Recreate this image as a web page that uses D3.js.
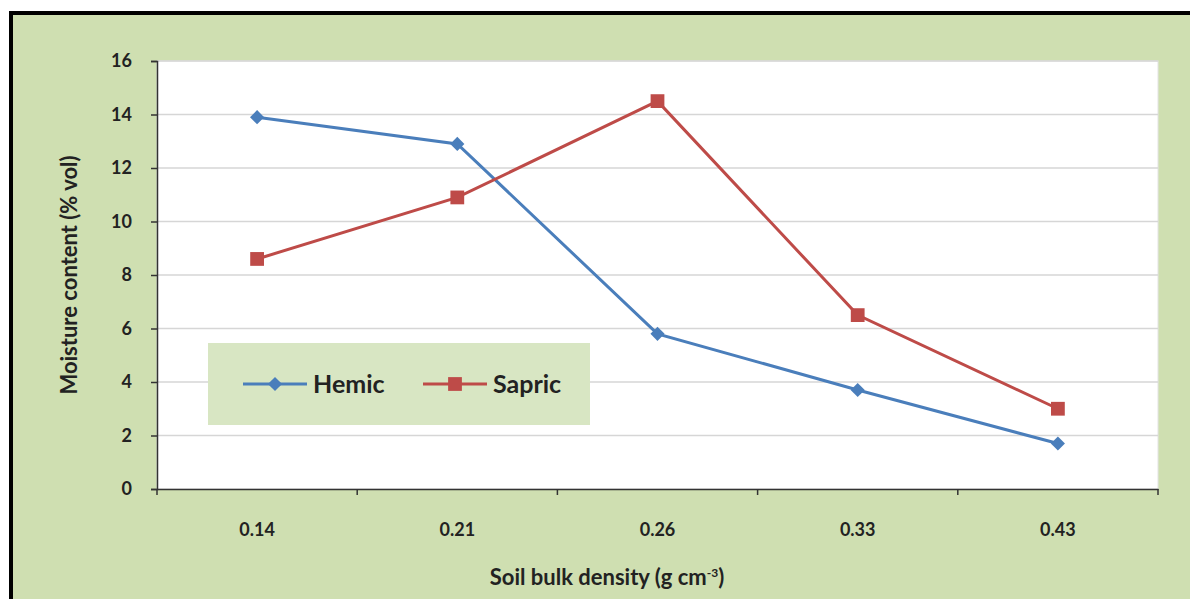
<!DOCTYPE html>
<html>
<head>
<meta charset="utf-8">
<script src="https://cdn.jsdelivr.net/npm/d3@7"></script>
<style>
  body { margin: 0; background: #fff; }
  svg text { font-family: Lato, "Open Sans", sans-serif; font-weight: bold; fill: #222; }
</style>
</head>
<body>
<svg id="chart" width="1190" height="599"></svg>
<script>
// data
var densities = ["0.14", "0.21", "0.26", "0.33", "0.43"];
var hemic = [13.9, 12.9, 5.8, 3.7, 1.7];
var sapric = [8.6, 10.9, 14.5, 6.5, 3.0];
var yTicks = [0, 2, 4, 6, 8, 10, 12, 14, 16];

var svg = d3.select("#chart");

// outer frame: black top/left border, green fill
svg.append("rect")
  .attr("x", 9).attr("y", 11)
  .attr("width", 1190).attr("height", 600)
  .attr("fill", "#000");
svg.append("rect")
  .attr("x", 13).attr("y", 15)
  .attr("width", 1190).attr("height", 600)
  .attr("fill", "#cfdfb1");

// plot area bounds (don't use "top", it's window.top)
var plotLeft = 157, plotTop = 61, plotRight = 1158, plotBottom = 489;

var x = d3.scaleBand()
  .domain(densities)
  .range([plotLeft, plotRight]);

var y = d3.scaleLinear()
  .domain([0, 16])
  .range([plotBottom, plotTop]);

// plot area
svg.append("rect")
  .attr("x", plotLeft).attr("y", plotTop)
  .attr("width", plotRight - plotLeft).attr("height", plotBottom - plotTop)
  .attr("fill", "#fff")
  .attr("stroke", "#e3e3e3");

// gridlines
svg.append("g")
  .selectAll("line")
  .data(yTicks.slice(1))
  .enter()
  .append("line")
  .attr("x1", plotLeft).attr("x2", plotRight)
  .attr("y1", function (d) { return y(d); })
  .attr("y2", function (d) { return y(d); })
  .attr("stroke", "#d6d6d6")
  .attr("stroke-width", 1.5);

// y axis
var y_axis = d3.axisLeft(y)
  .tickValues(yTicks)
  .tickSize(6)
  .tickPadding(19);

svg.append("g")
  .attr("transform", "translate(" + plotLeft + ",0)")
  .call(y_axis)
  .call(function (g) {
    g.selectAll("path, line").attr("stroke", "#333").attr("stroke-width", 1.5);
    g.selectAll("text").style("font-size", "18px").attr("fill", "#222");
  });

// x axis: ticks at category boundaries
var x_axis = d3.axisBottom(x)
  .tickSize(0)
  .tickPadding(34);

svg.append("g")
  .attr("transform", "translate(0," + plotBottom + ")")
  .call(x_axis)
  .call(function (g) {
    g.select(".domain").attr("stroke", "#333").attr("stroke-width", 1.5);
    g.selectAll("text").style("font-size", "18px").attr("fill", "#222");
  });

svg.append("g")
  .selectAll("line")
  .data(densities.concat(["end"]))
  .enter()
  .append("line")
  .attr("x1", function (d, i) { return i < densities.length ? x(d) : plotRight; })
  .attr("x2", function (d, i) { return i < densities.length ? x(d) : plotRight; })
  .attr("y1", plotBottom).attr("y2", plotBottom + 6)
  .attr("stroke", "#333")
  .attr("stroke-width", 1.5);

// lines and markers
var line = d3.line()
  .x(function (d, i) { return x(densities[i]) + x.bandwidth() / 2; })
  .y(function (d) { return y(d); });

// excel style diamond = square turned 45deg
var series = [
  { name: "Hemic", values: hemic, color: "#4a7ebb", symbol: d3.symbolSquare, size: 100, rot: 45 },
  { name: "Sapric", values: sapric, color: "#be4b48", symbol: d3.symbolSquare, size: 190, rot: 0 }
];

series.forEach(function (s) {
  svg.append("path")
    .datum(s.values)
    .attr("fill", "none")
    .attr("stroke", s.color)
    .attr("stroke-width", 3)
    .attr("d", line);

  svg.append("g")
    .selectAll("path")
    .data(s.values)
    .enter()
    .append("path")
    .attr("d", d3.symbol().type(s.symbol).size(s.size))
    .attr("fill", s.color)
    .attr("transform", function (d, i) {
      return "translate(" + (x(densities[i]) + x.bandwidth() / 2) + "," + y(d) + ") rotate(" + s.rot + ")";
    });
});

// legend
var legend = svg.append("g");
legend.append("rect")
  .attr("x", 208).attr("y", 343)
  .attr("width", 382).attr("height", 82)
  .attr("fill", "#d8e6c3");

var legendX = [243, 423];
series.forEach(function (s, i) {
  var lx = legendX[i];
  legend.append("line")
    .attr("x1", lx).attr("x2", lx + 64)
    .attr("y1", 384).attr("y2", 384)
    .attr("stroke", s.color)
    .attr("stroke-width", 3);
  legend.append("path")
    .attr("d", d3.symbol().type(s.symbol).size(s.size))
    .attr("fill", s.color)
    .attr("transform", "translate(" + (lx + 32) + ",384) rotate(" + s.rot + ")");
  legend.append("text")
    .attr("x", lx + 70)
    .attr("y", 384)
    .attr("dy", "0.35em")
    .style("font-size", "25px")
    .text(s.name);
});

// axis titles
svg.append("text")
  .attr("transform", "translate(77," + ((plotTop + plotBottom) / 2) + ") rotate(-90)")
  .style("text-anchor", "middle")
  .style("font-size", "22px")
  .text("Moisture content (% vol)");

var xt = svg.append("text")
  .attr("x", 607)
  .attr("y", 585)
  .style("text-anchor", "middle")
  .style("font-size", "22px");
xt.append("tspan").text("Soil bulk density (g cm");
xt.append("tspan").attr("dy", -8).style("font-size", "12px").text("-3");
xt.append("tspan").attr("dy", 8).text(")");
</script>
</body>
</html>
